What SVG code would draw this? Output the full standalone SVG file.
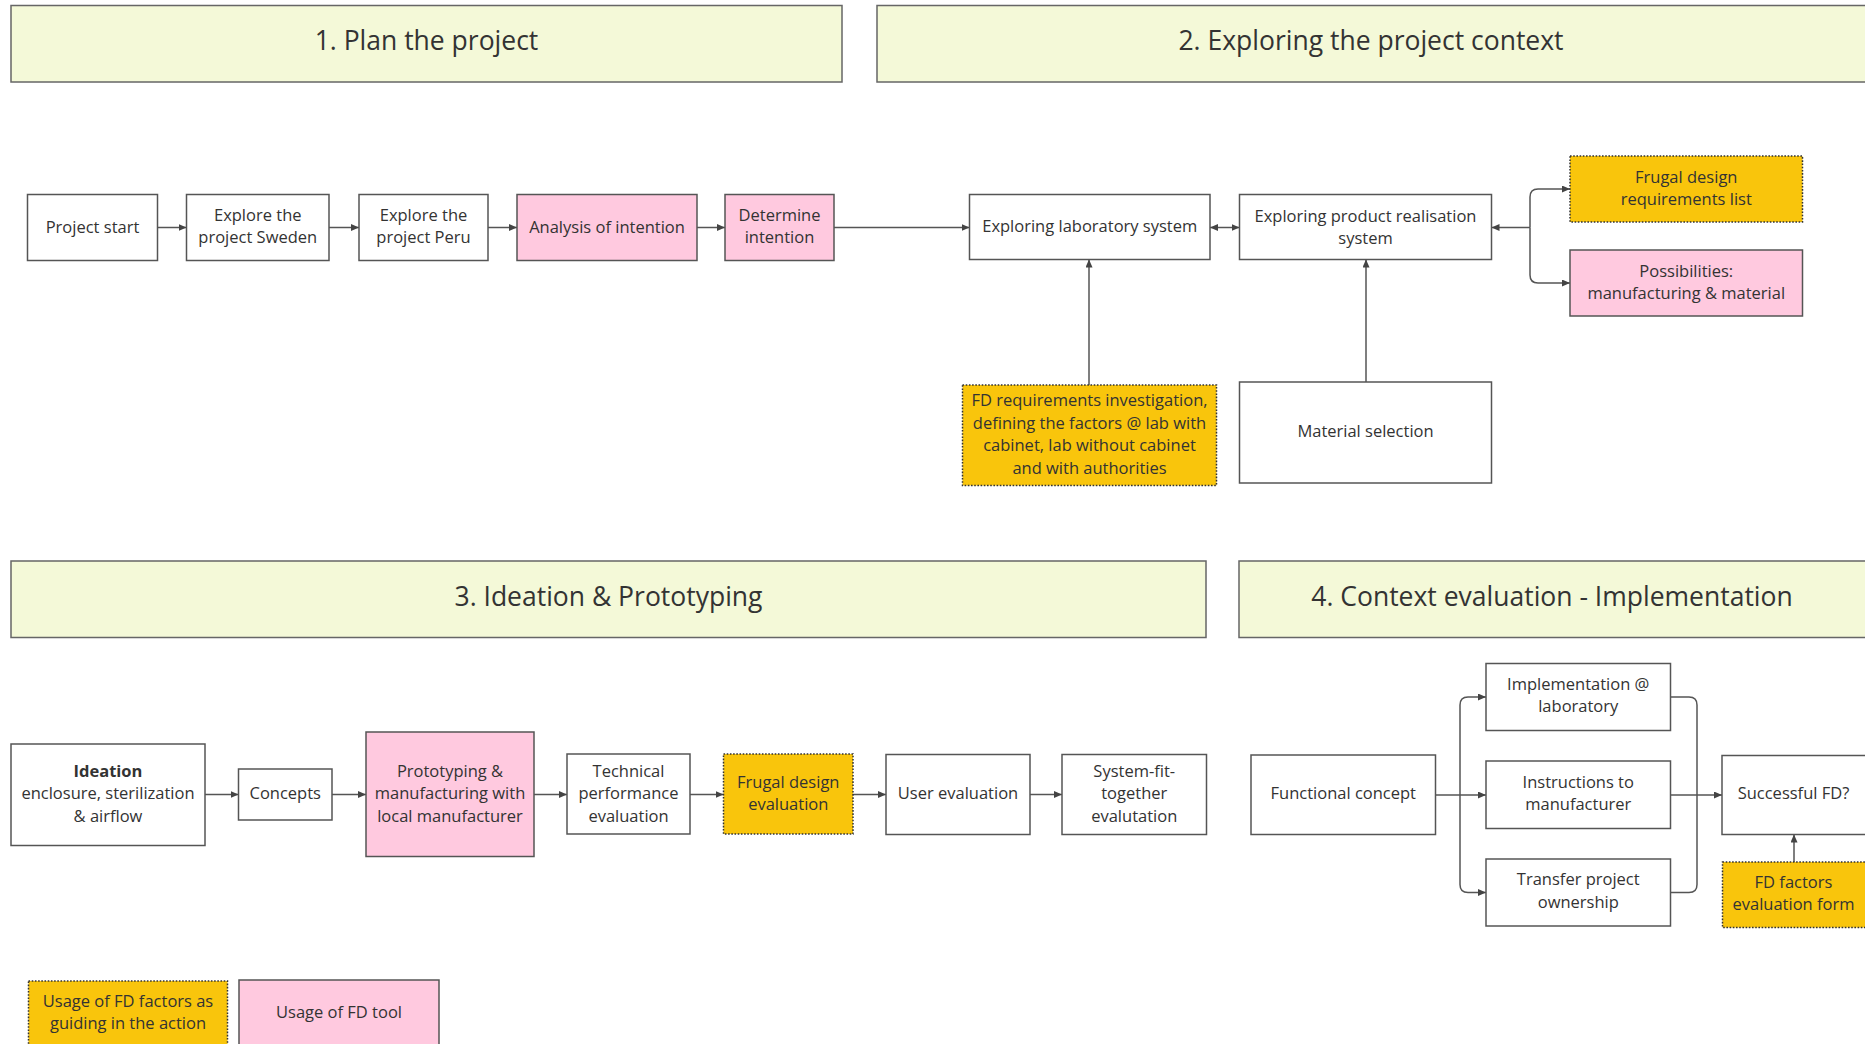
<svg xmlns="http://www.w3.org/2000/svg" width="1865" height="1044" viewBox="0 0 1865 1044">
  <defs>
    <marker id="arrow" markerUnits="userSpaceOnUse" markerWidth="9" markerHeight="8" refX="8" refY="3.5" orient="auto-start-reverse">
      <path d="M0,0 L8,3.5 L0,7 z" fill="#444"/>
    </marker>
    <style>
      text { font-family: "Open Sans", "Noto Sans", "Liberation Sans", sans-serif; fill: #333; text-anchor: middle; }
      .hdr rect { fill: #F4F9D8; stroke: #666; stroke-width: 1.5; }
      .hdr text { font-size: 26.5px; }
      .node rect { stroke: #555; stroke-width: 1.5; }
      .node text { font-size: 16.5px; }
      .plain rect { fill: #FFFFFF; }
      .tool rect { fill: #FFC9DF; }
      .factor rect { fill: #F9C50C; stroke: #333; stroke-dasharray: 1.6 1.6; }
      .conn path { fill: none; stroke: #555; stroke-width: 1.5; }
      .b { font-weight: bold; }
    </style>
  </defs>
  <rect width="1865" height="1044" fill="#FFFFFF"/>

  <!-- Phase headers -->
  <g id="phase1" class="hdr"><rect x="11" y="5.5" width="831" height="76.5"/><text x="426.5" y="50">1. Plan the project</text></g>
  <g id="phase2" class="hdr"><rect x="877" y="5.5" width="992" height="76.5"/><text x="1371" y="50">2. Exploring the project context</text></g>
  <g id="phase3" class="hdr"><rect x="11" y="561" width="1195" height="76.5"/><text x="608.5" y="606">3. Ideation &amp; Prototyping</text></g>
  <g id="phase4" class="hdr"><rect x="1239" y="561" width="630" height="76.5"/><text x="1552" y="606">4. Context evaluation - Implementation</text></g>

  <!-- Connectors -->
  <g id="connectors" class="conn">
    <path d="M157.5,227.5 H186.5" marker-end="url(#arrow)"/>
    <path d="M329,227.5 H359" marker-end="url(#arrow)"/>
    <path d="M488,227.5 H517" marker-end="url(#arrow)"/>
    <path d="M697,227.5 H725" marker-end="url(#arrow)"/>
    <path d="M834,227.5 H969.5" marker-end="url(#arrow)"/>
    <path d="M1210,227.5 H1239.5" marker-start="url(#arrow)" marker-end="url(#arrow)"/>
    <path d="M1530,227.5 H1491.5" marker-end="url(#arrow)"/>
    <path d="M1530,227.5 V197 Q1530,189 1538,189 H1570" marker-end="url(#arrow)"/>
    <path d="M1530,227.5 V275 Q1530,283 1538,283 H1570" marker-end="url(#arrow)"/>
    <path d="M1089,385 V259.5" marker-end="url(#arrow)"/>
    <path d="M1366,382 V259.5" marker-end="url(#arrow)"/>

    <path d="M205,794.5 H238.5" marker-end="url(#arrow)"/>
    <path d="M332,794.5 H366" marker-end="url(#arrow)"/>
    <path d="M534,794.5 H567" marker-end="url(#arrow)"/>
    <path d="M690,794.5 H723.5" marker-end="url(#arrow)"/>
    <path d="M853,794.5 H886" marker-end="url(#arrow)"/>
    <path d="M1030,794.5 H1062" marker-end="url(#arrow)"/>

    <path d="M1435.5,795 H1486" marker-end="url(#arrow)"/>
    <path d="M1460,795 V705 Q1460,697 1468,697 H1486" marker-end="url(#arrow)"/>
    <path d="M1460,795 V884.5 Q1460,892.5 1468,892.5 H1486" marker-end="url(#arrow)"/>
    <path d="M1670.5,697 H1689 Q1697,697 1697,705 V795"/>
    <path d="M1670.5,892.5 H1689 Q1697,892.5 1697,884.5 V795"/>
    <path d="M1670.5,795 H1722" marker-end="url(#arrow)"/>
    <path d="M1794,862 V834.5" marker-end="url(#arrow)"/>
  </g>

  <!-- Phase 1 and 2 nodes -->
  <g id="project-start" class="node plain"><rect x="27.5" y="194.5" width="130" height="66"/><text x="92.5" y="233">Project start</text></g>
  <g id="explore-sweden" class="node plain"><rect x="186.5" y="194.5" width="142.5" height="66"/><text x="257.75" y="220.5">Explore the</text><text x="257.75" y="243">project Sweden</text></g>
  <g id="explore-peru" class="node plain"><rect x="359" y="194.5" width="129" height="66"/><text x="423.5" y="220.5">Explore the</text><text x="423.5" y="243">project Peru</text></g>
  <g id="analysis-intention" class="node tool"><rect x="517" y="194.5" width="180" height="66"/><text x="607" y="232.5">Analysis of intention</text></g>
  <g id="determine-intention" class="node tool"><rect x="725" y="194.5" width="109" height="66"/><text x="779.5" y="220.5">Determine</text><text x="779.5" y="243">intention</text></g>
  <g id="lab-system" class="node plain"><rect x="969.5" y="194.5" width="240.5" height="65"/><text x="1089.75" y="232">Exploring laboratory system</text></g>
  <g id="product-system" class="node plain"><rect x="1239.5" y="194.5" width="252" height="65"/><text x="1365.5" y="221.5">Exploring product realisation</text><text x="1365.5" y="243.5">system</text></g>
  <g id="fd-req-list" class="node factor"><rect x="1570" y="156" width="232.5" height="66"/><text x="1686.25" y="183">Frugal design</text><text x="1686.25" y="205">requirements list</text></g>
  <g id="possibilities" class="node tool"><rect x="1570" y="250" width="232.5" height="66"/><text x="1686.25" y="276.5">Possibilities:</text><text x="1686.25" y="298.5">manufacturing &amp; material</text></g>
  <g id="fd-req-investigation" class="node factor"><rect x="962.5" y="385" width="254" height="100.5"/><text x="1089.5" y="406">FD requirements investigation,</text><text x="1089.5" y="428.5">defining the factors @ lab with</text><text x="1089.5" y="451">cabinet, lab without cabinet</text><text x="1089.5" y="473.5">and with authorities</text></g>
  <g id="material-selection" class="node plain"><rect x="1239.5" y="382" width="252" height="101"/><text x="1365.5" y="437">Material selection</text></g>

  <!-- Phase 3 nodes -->
  <g id="ideation" class="node plain"><rect x="11" y="744" width="194" height="101.5"/><text class="b" x="108" y="776.5">Ideation</text><text x="108" y="799">enclosure, sterilization</text><text x="108" y="821.5">&amp; airflow</text></g>
  <g id="concepts" class="node plain"><rect x="238.5" y="769" width="93.5" height="51"/><text x="285.25" y="798.5">Concepts</text></g>
  <g id="prototyping" class="node tool"><rect x="366" y="732" width="168" height="124.5"/><text x="450" y="776.5">Prototyping &amp;</text><text x="450" y="799">manufacturing with</text><text x="450" y="821.5">local manufacturer</text></g>
  <g id="technical-eval" class="node plain"><rect x="567" y="754" width="123" height="80"/><text x="628.5" y="776.5">Technical</text><text x="628.5" y="799">performance</text><text x="628.5" y="821.5">evaluation</text></g>
  <g id="frugal-eval" class="node factor"><rect x="723.5" y="754" width="129.5" height="80"/><text x="788.25" y="788">Frugal design</text><text x="788.25" y="810">evaluation</text></g>
  <g id="user-eval" class="node plain"><rect x="886" y="754.5" width="144" height="80"/><text x="958" y="798.5">User evaluation</text></g>
  <g id="system-fit" class="node plain"><rect x="1062" y="754.5" width="144.5" height="80"/><text x="1134.25" y="776.5">System-fit-</text><text x="1134.25" y="799">together</text><text x="1134.25" y="821.5">evalutation</text></g>

  <!-- Phase 4 nodes -->
  <g id="functional-concept" class="node plain"><rect x="1251" y="755" width="184.5" height="79.5"/><text x="1343.25" y="799">Functional concept</text></g>
  <g id="implementation-lab" class="node plain"><rect x="1486" y="663.5" width="184.5" height="67"/><text x="1578.25" y="690">Implementation @</text><text x="1578.25" y="712">laboratory</text></g>
  <g id="instructions" class="node plain"><rect x="1486" y="761" width="184.5" height="67.5"/><text x="1578.25" y="788">Instructions to</text><text x="1578.25" y="810">manufacturer</text></g>
  <g id="transfer-ownership" class="node plain"><rect x="1486" y="859" width="184.5" height="67"/><text x="1578.25" y="885">Transfer project</text><text x="1578.25" y="907.5">ownership</text></g>
  <g id="successful-fd" class="node plain"><rect x="1722" y="755.5" width="146" height="79"/><text x="1793.5" y="799">Successful FD?</text></g>
  <g id="fd-factors-form" class="node factor"><rect x="1722.5" y="862" width="146" height="65.5"/><text x="1793.5" y="888">FD factors</text><text x="1793.5" y="910">evaluation form</text></g>

  <!-- Legend -->
  <g id="legend-factors" class="node factor"><rect x="28.5" y="981" width="199" height="66"/><text x="128" y="1007">Usage of FD factors as</text><text x="128" y="1028.5">guiding in the action</text></g>
  <g id="legend-tool" class="node tool"><rect x="239" y="980" width="200" height="66"/><text x="339" y="1017.5">Usage of FD tool</text></g>
</svg>
